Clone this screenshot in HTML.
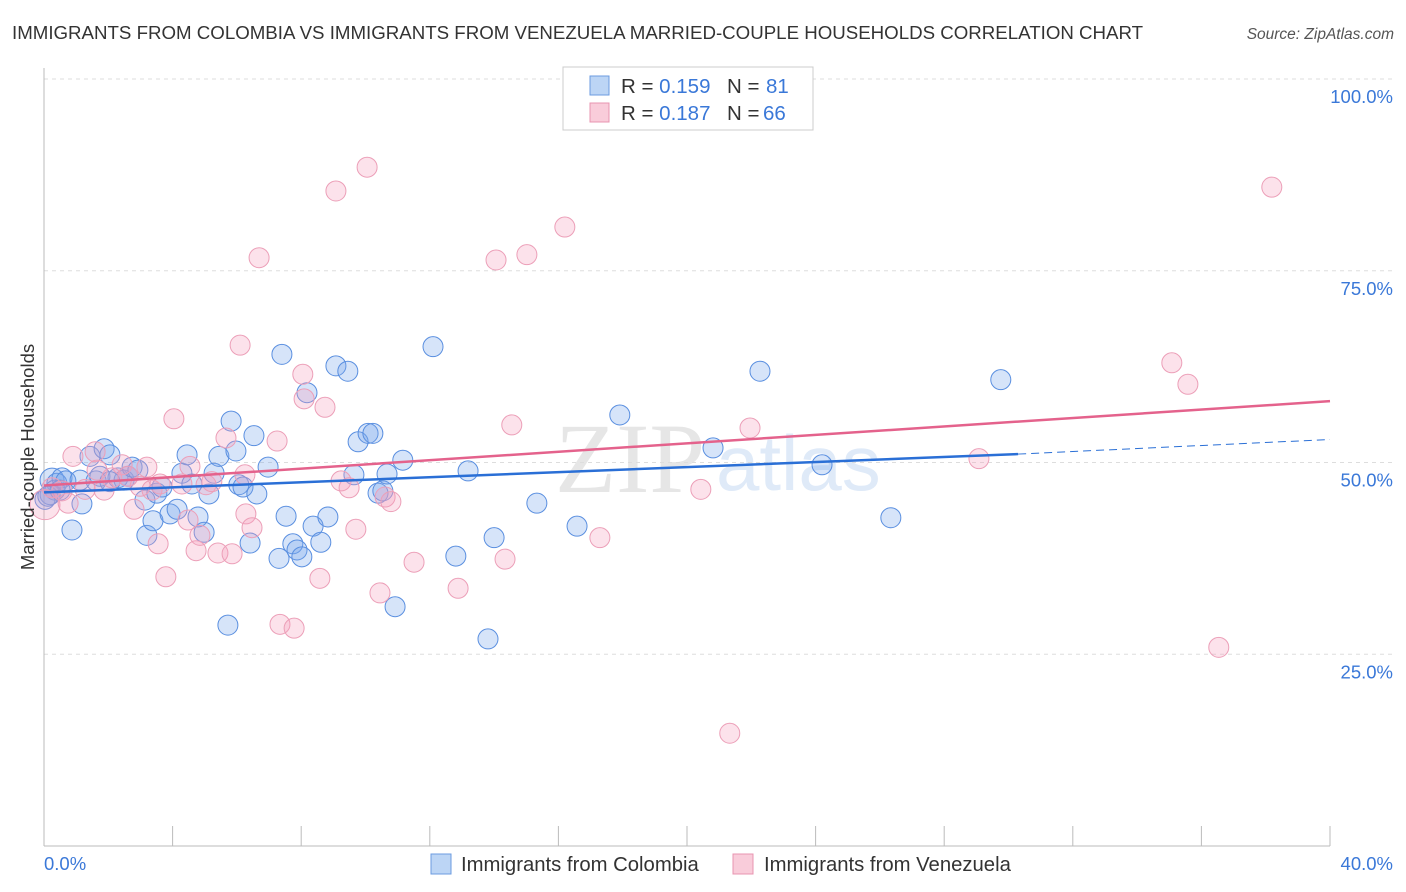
<!DOCTYPE html>
<html><head><meta charset="utf-8"><style>
body{margin:0;background:#fff;font-family:"Liberation Sans",sans-serif;}
#wrap{position:relative;width:1406px;height:892px;overflow:hidden;}
</style></head><body><div id="wrap">
<svg id="chart" width="1406" height="892" xmlns="http://www.w3.org/2000/svg">
<text x="12" y="39" font-size="18.7" fill="#333">IMMIGRANTS FROM COLOMBIA VS IMMIGRANTS FROM VENEZUELA MARRIED-COUPLE HOUSEHOLDS CORRELATION CHART</text>
<text x="1394" y="39" font-size="15.5" fill="#555" font-style="italic" text-anchor="end">Source: ZipAtlas.com</text>
<text x="555" y="492" font-family="Liberation Serif,serif" font-size="100" fill="#e6e6e6">ZIP</text>
<text x="716" y="490" font-size="78" fill="#dfeaf8">atlas</text>
<g id="grid"></g><g id="axes"></g><g id="pts"></g><g id="lines"></g>
<g>
<rect x="563" y="67" width="250" height="63" fill="#fff" stroke="#ccc"/>
<rect x="590" y="76" width="19" height="19" fill="#bcd5f5" stroke="#6b9be0"/>
<rect x="590" y="103" width="19" height="19" fill="#f9ccda" stroke="#e894b0"/>
<text x="621" y="93" font-size="20.5" fill="#333">R = <tspan fill="#3a78d8">0.159</tspan><tspan x="727">N = </tspan><tspan fill="#3a78d8" x="766">81</tspan></text>
<text x="621" y="120" font-size="20.5" fill="#333">R = <tspan fill="#3a78d8">0.187</tspan><tspan x="727">N = </tspan><tspan fill="#3a78d8" x="763">66</tspan></text>
</g>
<g>
<rect x="431" y="854" width="20" height="20" fill="#bcd5f5" stroke="#6b9be0"/>
<text x="461" y="871" font-size="20.3" fill="#333">Immigrants from Colombia</text>
<rect x="733" y="854" width="20" height="20" fill="#f9ccda" stroke="#e894b0"/>
<text x="764" y="871" font-size="20.3" fill="#333">Immigrants from Venezuela</text>
</g>
<text x="44" y="870" font-size="18.5" fill="#3a78d8">0.0%</text>
<text x="1393" y="870" font-size="18.5" fill="#3a78d8" text-anchor="end">40.0%</text>
<text transform="translate(34,457) rotate(-90)" font-size="18.5" fill="#333" text-anchor="middle">Married-couple Households</text>
</svg>
<script>
const colX=[0.25,0.40,0.56,0.19,0.34,0.68,0.87,1.12,1.18,1.43,1.62,1.74,1.87,2.05,2.30,2.49,2.61,2.74,2.92,3.14,3.20,3.39,3.51,3.67,3.92,4.14,4.29,4.45,4.60,4.79,4.98,5.13,5.29,5.44,5.72,5.82,5.97,6.06,6.19,6.41,6.53,6.62,6.97,7.31,7.40,7.53,7.74,7.87,8.02,8.18,8.37,8.61,8.83,9.08,9.45,9.64,9.77,10.08,10.23,10.39,10.54,10.67,10.92,11.16,12.10,12.81,13.19,13.81,14.00,15.33,16.58,17.91,20.81,22.27,24.20,26.34,29.76,0.03,0.12,0.50,2.05];
const colY=[47.7,47.3,48.0,45.8,46.4,47.6,41.2,47.7,44.6,50.8,47.6,48.2,51.8,51.0,48.0,47.7,48.2,49.4,49.0,45.1,40.5,42.4,46.0,46.8,43.3,43.9,48.6,51.0,47.2,42.9,40.9,45.9,48.6,50.8,28.8,55.4,51.5,47.1,46.8,39.5,53.5,45.9,49.4,37.5,64.1,43.0,39.4,38.6,37.7,59.1,41.7,39.6,42.9,62.6,61.9,48.4,52.7,53.8,53.8,46.0,46.3,48.5,31.2,50.3,65.1,37.8,48.9,27.0,40.2,44.7,41.7,56.2,51.9,61.9,49.7,42.8,60.8,45.2,45.6,46.4,47.5];
const venX=[0.03,0.25,0.56,0.75,0.90,1.28,1.59,1.87,2.11,2.43,2.61,2.80,2.99,3.20,3.36,3.55,3.79,4.04,4.29,4.48,4.73,4.85,5.04,5.22,5.41,5.66,5.85,6.10,6.28,6.47,6.69,7.25,7.34,7.78,8.05,8.09,8.58,8.74,9.08,9.24,9.49,9.70,10.05,10.45,10.61,10.79,11.51,12.88,14.06,14.34,14.55,15.02,16.20,17.29,20.43,21.33,21.96,29.08,35.08,35.58,36.54,38.19,1.65,4.54,6.25,3.61];
const venY=[44.5,46.7,46.3,44.7,50.8,46.5,51.4,46.4,48.0,49.7,48.2,43.9,46.9,49.4,46.4,39.4,35.1,55.7,47.2,42.5,38.5,40.5,47.1,47.5,38.2,53.2,38.1,65.3,43.3,41.5,76.7,52.8,28.9,28.4,61.5,58.3,34.9,57.2,85.4,47.6,46.7,41.3,88.5,33.0,45.5,44.9,37.0,33.6,76.4,37.4,54.9,77.1,80.7,40.2,46.5,14.7,54.5,50.5,63.0,60.2,25.9,85.9,49.0,49.5,48.4,47.2];
const colTrend=[46.1,51.1,53.0]; // at x=0, x=30.3, x=40
const venTrend=[47.0,58.0]; // at x=0, x=40
const yTicks=[100,75,50,25];
const yTickLabels=["100.0%","75.0%","50.0%","25.0%"];
const xTicks=[0,4,8,12,16,20,24,28,32,36,40];

const NS="http://www.w3.org/2000/svg";
const X=v=>44+v/40*1286;
const Y=v=>846-v/100*767;
function mk(tag,attrs,parent){const e=document.createElementNS(NS,tag);for(const k in attrs)e.setAttribute(k,attrs[k]);document.getElementById(parent).appendChild(e);return e;}
yTicks.forEach((t,i)=>{
 const l=mk('line',{x1:44,x2:1394,y1:Y(t),y2:Y(t),stroke:'#ddd','stroke-dasharray':'4,4'},'grid');
 
 
 const tx=mk('text',{x:1393,y:Y(t)+24,'font-size':18.5,fill:'#3a78d8','text-anchor':'end'},'grid');
 tx.textContent=yTickLabels[i];
 
 
});
const ya=mk('line',{x1:44,x2:44,y1:68,y2:846,stroke:'#bbb'},'axes');


const xa=mk('line',{x1:44,x2:1330,y1:846,y2:846,stroke:'#bbb'},'axes');


xTicks.forEach(t=>{
 const l=mk('line',{x1:X(t),x2:X(t),y1:826,y2:846,stroke:'#bbb'},'axes');
 
 
});
function pts(xs,ys,fill,stroke,name){
 xs.forEach((v,i)=>{
  const c=mk('circle',{cx:X(v),cy:Y(ys[i]),r:i===0?(name==='venezuela-point'?15:12):10,fill:fill,stroke:stroke,'stroke-width':1},'pts');
  
  
 });
}
pts(colX,colY,'rgba(120,165,235,0.3)','#5a8fe0','colombia-point');
pts(venX,venY,'rgba(245,160,190,0.3)','#ec9fb8','venezuela-point');
const l1=mk('line',{x1:X(0),y1:Y(colTrend[0]),x2:X(30.3),y2:Y(colTrend[1]),stroke:'#2a6fd6','stroke-width':2.5},'lines');


const l2=mk('line',{x1:X(30.3),y1:Y(colTrend[1]),x2:X(40),y2:Y(colTrend[2]),stroke:'#2a6fd6','stroke-width':1,'stroke-dasharray':'8,5'},'lines');


const l3=mk('line',{x1:X(0),y1:Y(venTrend[0]),x2:X(40),y2:Y(venTrend[1]),stroke:'#e4628c','stroke-width':2.5},'lines');


</script>
</div></body></html>
